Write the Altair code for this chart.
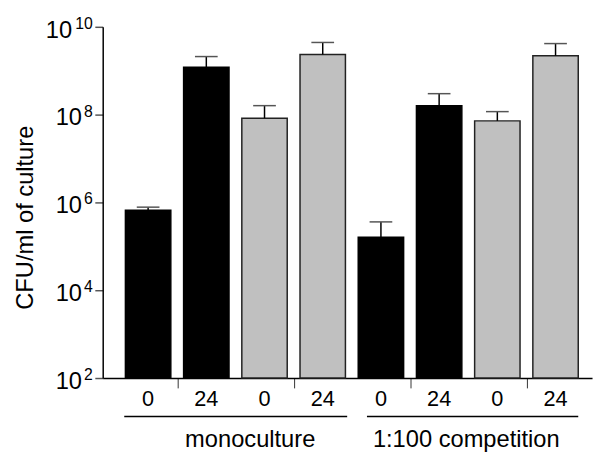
import altair as alt
import pandas as pd

# ---- data ----
conditions = ["monoculture"] * 4 + ["1:100 competition"] * 4
times = ["0", "24", "0", "24", "0", "24", "0", "24"]
strains = ["black", "black", "gray", "gray", "black", "black", "gray", "gray"]
means = [6.6e5, 1.2e9, 8.3e7, 2.35e9, 1.6e5, 1.6e8, 7.2e7, 2.2e9]
uppers = [7.8e5, 2.1e9, 1.6e8, 4.4e9, 3.6e5, 3.0e8, 1.17e8, 4.15e9]
ytick_exponents = [2, 4, 6, 8, 10]
group_names = ["monoculture", "1:100 competition"]

df = pd.DataFrame({
    "idx": list(range(len(means))),
    "condition": conditions,
    "time": times,
    "strain": strains,
    "mean": means,
    "upper": uppers,
})
dfy = pd.DataFrame({"exp": ytick_exponents})

W, H = 496, 356
FONT = "Liberation Sans"

xscale = alt.Scale(domain=[-0.78, 7.627], nice=False, zero=False)
yscale = alt.Scale(type="log", domain=[1e2, 1e10], nice=False)

xaxis = alt.Axis(values=[0.5, 2.5, 4.5, 6.5], labels=False, title=None, grid=False,
                 tickSize=10, tickColor="#333333", tickWidth=1,
                 domainColor="black", domainWidth=1.5)
yaxis = alt.Axis(values=[1e2, 1e4, 1e6, 1e8, 1e10], labels=False, grid=False,
                 title="CFU/ml of culture", titleFont=FONT, titleFontSize=24,
                 titleFontWeight="normal", titleColor="black",
                 titleAngle=270, titleX=-71, titleY=193,
                 titleAlign="center", titleBaseline="alphabetic",
                 tickSize=8, tickColor="#555555", tickWidth=1.5,
                 domainColor="black", domainWidth=1.5)

base = alt.Chart(df)

bars = base.transform_calculate(
    x1="datum.idx - 0.39", x2="datum.idx + 0.39", floor="100"
).mark_rect(strokeWidth=1.5).encode(
    x=alt.X("x1:Q", scale=xscale, axis=xaxis),
    x2="x2:Q",
    y=alt.Y("mean:Q", scale=yscale, axis=yaxis),
    y2="floor:Q",
    fill=alt.Fill("strain:N", scale=alt.Scale(domain=["black", "gray"], range=["#000000", "#c0c0c0"]), legend=None),
    stroke=alt.Stroke("strain:N", scale=alt.Scale(domain=["black", "gray"], range=["#000000", "#222222"]), legend=None),
)

err_v = base.mark_rule(color="black", strokeWidth=1.5).encode(
    x=alt.X("idx:Q", scale=xscale, axis=xaxis),
    y=alt.Y("mean:Q", scale=yscale, axis=yaxis),
    y2="upper:Q",
)

err_cap = base.transform_calculate(
    cl="datum.idx - 0.195", cr="datum.idx + 0.195"
).mark_rule(color="#555555", strokeWidth=1.5).encode(
    x=alt.X("cl:Q", scale=xscale, axis=xaxis),
    x2="cr:Q",
    y=alt.Y("upper:Q", scale=yscale, axis=yaxis),
)

xlabels = base.mark_text(font=FONT, fontSize=22, baseline="alphabetic", align="center", color="black").encode(
    x=alt.X("idx:Q", scale=xscale, axis=xaxis),
    y=alt.value(H + 28),
    text="time:N",
)


def group_layers(name, pad_l, pad_r, dx):
    g = base.transform_filter(alt.datum.condition == name).transform_aggregate(
        lo="min(idx)", hi="max(idx)", groupby=["condition"]
    ).transform_calculate(
        a=f"datum.lo - {pad_l}", b=f"datum.hi + {pad_r}", c="(datum.lo + datum.hi) / 2"
    )
    line = g.mark_rule(color="black", strokeWidth=1.5).encode(
        x=alt.X("a:Q", scale=xscale, axis=xaxis), x2="b:Q", y=alt.value(H + 39)
    )
    label = g.mark_text(font=FONT, fontSize=24, dx=dx, baseline="alphabetic", align="center", color="black").encode(
        x=alt.X("c:Q", scale=xscale, axis=xaxis), y=alt.value(H + 70), text="condition:N"
    )
    return [line, label]


g1 = group_layers(group_names[0], 0.41, 0.42, 15)
g2 = group_layers(group_names[1], 0.24, 0.39, -2)

ybase = alt.Chart(dfy).transform_calculate(val="pow(10, datum.exp)", e="'' + datum.exp")

ysup = ybase.mark_text(font=FONT, fontSize=16, align="right", baseline="alphabetic", dy=2, color="black").encode(
    x=alt.value(-10),
    y=alt.Y("val:Q", scale=yscale, axis=yaxis),
    text="e:N",
)
yten_short = ybase.transform_filter(alt.datum.exp < 10).mark_text(
    font=FONT, fontSize=24, align="right", baseline="alphabetic", dy=11, color="black"
).encode(
    x=alt.value(-21),
    y=alt.Y("val:Q", scale=yscale, axis=yaxis),
    text=alt.value("10"),
)
yten_long = ybase.transform_filter(alt.datum.exp >= 10).mark_text(
    font=FONT, fontSize=24, align="right", baseline="alphabetic", dy=11, color="black"
).encode(
    x=alt.value(-31),
    y=alt.Y("val:Q", scale=yscale, axis=yaxis),
    text=alt.value("10"),
)

chart = alt.layer(
    bars, err_v, err_cap, xlabels, *g1, *g2, ysup, yten_short, yten_long
).properties(
    width=W, height=H,
    autosize=alt.AutoSizeParams(type="none"),
    padding={"left": 96, "top": 16, "right": 3, "bottom": 78},
    background="white",
).configure_view(stroke=None)

chart.save("out.html", embed_options={"renderer": "svg", "actions": False})
